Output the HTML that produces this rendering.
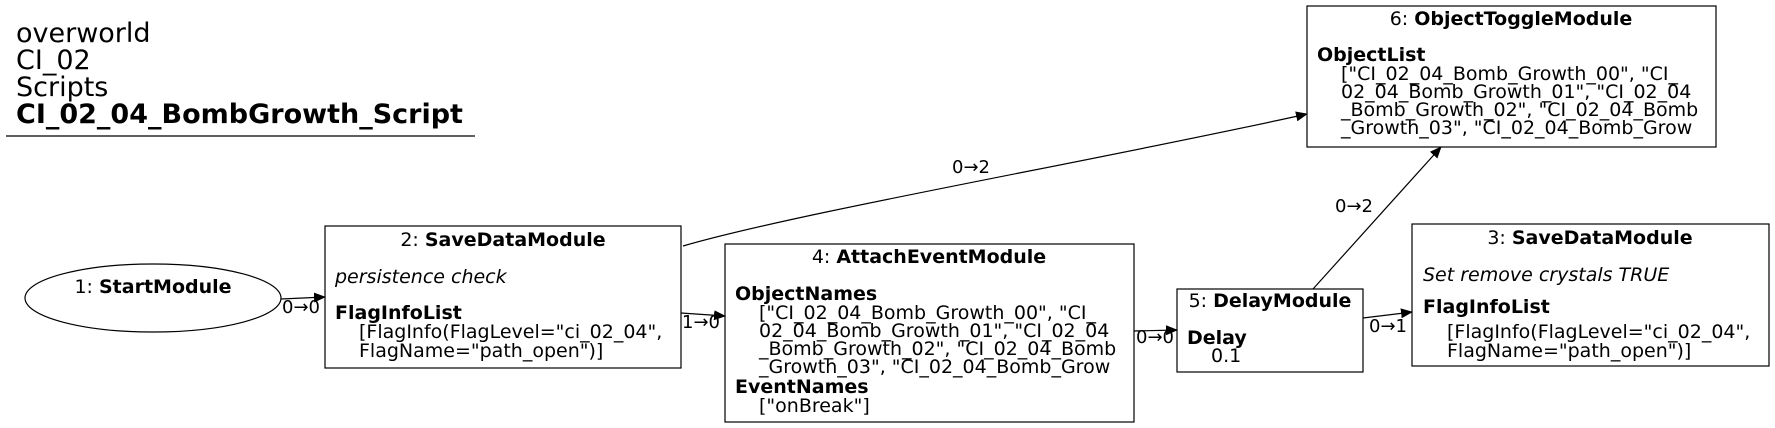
<!DOCTYPE html>
<html><head><meta charset="utf-8"><style>
html,body{margin:0;padding:0;background:#fff;}
svg{display:block;}
text{font-family:"DejaVu Sans","Liberation Sans",sans-serif;font-size:19px;fill:#000;}
.b{font-weight:bold;}
.i{font-style:italic;}
.t{font-size:27px;}
.l{font-size:18px;}
</style></head><body>
<svg width="1775" height="428" viewBox="0 0 1775 428" xmlns="http://www.w3.org/2000/svg">
<defs><marker id="a" markerWidth="12" markerHeight="10" refX="11" refY="5" orient="auto" markerUnits="userSpaceOnUse"><path d="M0,0 L12,5 L0,10 z" fill="#000"/></marker></defs>
<g stroke="#000" fill="none" stroke-width="1.2">
<ellipse cx="153" cy="298" rx="128" ry="34"/>
<rect x="325" y="226" width="356" height="142"/>
<rect x="725" y="244" width="409" height="178"/>
<rect x="1177" y="289" width="186" height="83"/>
<rect x="1307" y="6" width="409" height="141"/>
<rect x="1412" y="224" width="357" height="142"/>
<line x1="281" y1="299" x2="325" y2="297" marker-end="url(#a)"/>
<line x1="681" y1="313" x2="725" y2="316" marker-end="url(#a)"/>
<path d="M683,246 C800,212 1100,160 1307,114" marker-end="url(#a)"/>
<line x1="1134" y1="331" x2="1177" y2="330" marker-end="url(#a)"/>
<line x1="1363" y1="318" x2="1412" y2="312" marker-end="url(#a)"/>
<line x1="1313" y1="289" x2="1441" y2="147" marker-end="url(#a)"/>
<line x1="6" y1="136" x2="475" y2="136"/>
</g>
<text class="t" x="16" y="42">overworld</text>
<text class="t" x="16" y="69">CI_02</text>
<text class="t" x="16" y="96">Scripts</text>
<text class="t b" x="16" y="123">CI_02_04_BombGrowth_Script</text>

<text x="153" y="293" text-anchor="middle">1: <tspan class="b">StartModule</tspan></text>

<text x="503" y="246" text-anchor="middle">2: <tspan class="b">SaveDataModule</tspan></text>
<text class="i" x="335" y="283">persistence check</text>
<text class="b" x="335" y="319">FlagInfoList</text>
<text x="359" y="338">[FlagInfo(FlagLevel="ci_02_04",</text>
<text x="359" y="357">FlagName="path_open")]</text>

<text x="929" y="263" text-anchor="middle">4: <tspan class="b">AttachEventModule</tspan></text>
<text class="b" x="735" y="300">ObjectNames</text>
<text x="759" y="319">["CI_02_04_Bomb_Growth_00", "CI_</text>
<text x="759" y="337">02_04_Bomb_Growth_01", "CI_02_04</text>
<text x="759" y="355">_Bomb_Growth_02", "CI_02_04_Bomb</text>
<text x="759" y="373">_Growth_03", "CI_02_04_Bomb_Grow</text>
<text class="b" x="735" y="393">EventNames</text>
<text x="759" y="412">["onBreak"]</text>

<text x="1270" y="307" text-anchor="middle">5: <tspan class="b">DelayModule</tspan></text>
<text class="b" x="1187" y="344">Delay</text>
<text x="1211" y="362">0.1</text>

<text x="1511" y="25" text-anchor="middle">6: <tspan class="b">ObjectToggleModule</tspan></text>
<text class="b" x="1317" y="61">ObjectList</text>
<text x="1341" y="80">["CI_02_04_Bomb_Growth_00", "CI_</text>
<text x="1341" y="98">02_04_Bomb_Growth_01", "CI_02_04</text>
<text x="1341" y="116">_Bomb_Growth_02", "CI_02_04_Bomb</text>
<text x="1341" y="134">_Growth_03", "CI_02_04_Bomb_Grow</text>

<text x="1590" y="244" text-anchor="middle">3: <tspan class="b">SaveDataModule</tspan></text>
<text class="i" x="1423" y="281">Set remove crystals TRUE</text>
<text class="b" x="1423" y="313">FlagInfoList</text>
<text x="1447" y="338">[FlagInfo(FlagLevel="ci_02_04",</text>
<text x="1447" y="357">FlagName="path_open")]</text>

<text class="l" x="282" y="313">0→0</text>
<text class="l" x="682" y="328">1→0</text>
<text class="l" x="952" y="173">0→2</text>
<text class="l" x="1136" y="343">0→0</text>
<text class="l" x="1369" y="332">0→1</text>
<text class="l" x="1335" y="212">0→2</text>
</svg>
</body></html>
